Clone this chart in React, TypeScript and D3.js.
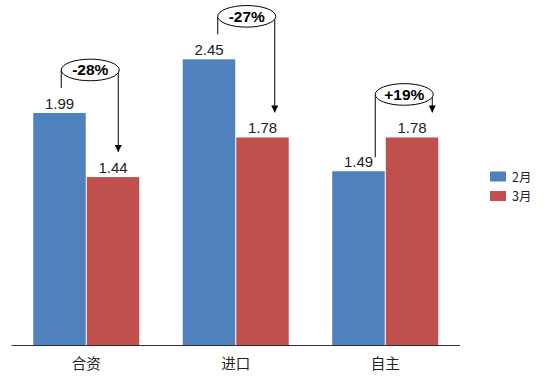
import React from "react";
import * as d3 from "d3";

const categories = ["合资", "进口", "自主"];
const seriesNames = ["2月", "3月"];
const febValues = [1.99, 2.45, 1.49];
const marValues = [1.44, 1.78, 1.78];
const changeLabels = ["-28%", "-27%", "+19%"];

const colors = ["#4F81BD", "#C0504D"];

// layout-only tweaks for the hand-placed callouts (pixel offsets from category centre)
const calloutDx = [4, 11, 19];
const calloutLeftGap = [25, 25, 14];

const W = 546;
const H = 391;
const baseY = 345;

export default function App() {
  const x0 = d3.scaleBand<string>().domain(categories).range([11.5, 460]).paddingInner(0).paddingOuter(0);
  const groupW = 106;
  const x1 = d3.scaleBand<string>().domain(seriesNames).range([0, groupW]).paddingInner(0.02);
  const y = d3.scaleLinear().domain([0, 2.5]).range([baseY, baseY - 2.5 * 116.6]);
  const font = "'Liberation Sans', Arial, sans-serif";
  const series = [febValues, marValues];

  return (
    <svg width={W} height={H} style={{ position: "absolute", left: 0, top: 0, background: "#fff" }}>
      <defs>
        <marker id="arr" viewBox="0 0 10 10" refX="10" refY="5" markerWidth="8" markerHeight="7" orient="auto" markerUnits="userSpaceOnUse">
          <path d="M0,0 L10,5 L0,10 z" fill="#000" />
        </marker>
      </defs>
      {categories.map((c, i) => {
        const gx = (x0(c) as number) + x0.bandwidth() / 2 - groupW / 2;
        return (
          <g key={c}>
            {series.map((vals, s) => {
              const bx = gx + (x1(seriesNames[s]) as number);
              const bw = x1.bandwidth();
              return (
                <g key={s}>
                  <rect x={bx} y={y(vals[i])} width={bw} height={baseY - y(vals[i])} fill={colors[s]} />
                  <text x={bx + bw / 2} y={y(vals[i]) - 4} textAnchor="middle" fontFamily={font} fontSize={15} fill="#222">
                    {vals[i].toFixed(2)}
                  </text>
                </g>
              );
            })}
          </g>
        );
      })}
      {categories.map((c, i) => {
        const cx = (x0(c) as number) + x0.bandwidth() / 2 + calloutDx[i];
        const rx = 29;
        const ry = 10.8;
        const topV = Math.max(febValues[i], marValues[i]);
        const cy = y(topV) - 43;
        const leftEnd = y(febValues[i]) - calloutLeftGap[i];
        const rightEnd = y(marValues[i]) - 25;
        return (
          <g key={"a" + c}>
            <line x1={cx - rx} y1={cy} x2={cx - rx} y2={leftEnd} stroke="#000" strokeWidth={1} />
            <line x1={cx + rx - 1} y1={cy} x2={cx + rx - 1} y2={rightEnd} stroke="#000" strokeWidth={1} markerEnd="url(#arr)" />
            <ellipse cx={cx} cy={cy} rx={rx} ry={ry} fill="#fff" stroke="#000" strokeWidth={1} />
            <text x={cx} y={cy + 5.5} textAnchor="middle" fontFamily={font} fontWeight="bold" fontSize={15.5} fill="#000">
              {changeLabels[i]}
            </text>
          </g>
        );
      })}
      <line x1={11.5} x2={460} y1={baseY + 0.5} y2={baseY + 0.5} stroke="#333" strokeWidth={1} />
      {categories.map((c) => (
        <text key={"t" + c} x={(x0(c) as number) + x0.bandwidth() / 2} y={369} textAnchor="middle"
          fontFamily="'Noto Sans CJK SC', sans-serif" fontSize={14.5} fill="#222">
          {c}
        </text>
      ))}
      {seriesNames.map((n, s) => (
        <g key={"l" + n} transform={`translate(490, ${171.5 + s * 19.5})`}>
          <rect x={0} y={0} width={16} height={10} fill={colors[s]} />
          <text x={22} y={10} fontFamily="'Noto Sans CJK SC', sans-serif" fontSize={12.5} fill="#222">{n}</text>
        </g>
      ))}
    </svg>
  );
}
